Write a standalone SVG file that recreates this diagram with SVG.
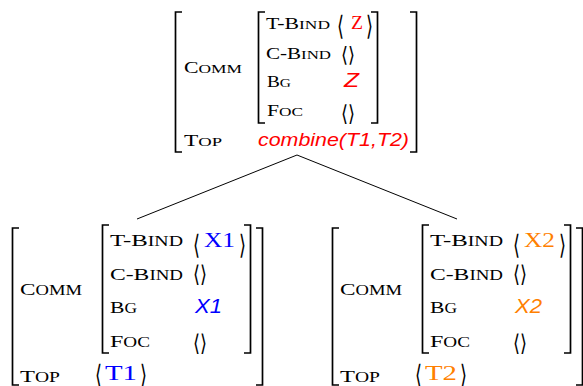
<svg xmlns="http://www.w3.org/2000/svg" width="583" height="386" viewBox="0 0 583 386">
<style>
.br{fill:none;stroke:#000;stroke-width:1.7}
.ln{fill:none;stroke:#000;stroke-width:1}
.f1{font-family:"Liberation Serif",serif;font-size:16.5px;fill:#000}
.f2{font-family:"Liberation Serif",serif;font-size:17.5px;fill:#000}
.sc{font-size:0.8em}
.ang{font-family:"DejaVu Sans",sans-serif;fill:#000}
.rm{font-family:"Liberation Serif",serif}
.it{font-family:"Liberation Sans",sans-serif;font-style:italic}
.red{fill:#ff0000}.blue{fill:#0000ff}.org{fill:#ff8000}
</style>
<g id="connectors">
<line class="ln" x1="297" y1="155" x2="137" y2="219"/>
<line class="ln" x1="297" y1="155" x2="457" y2="219"/>
</g>
<g id="root">
<path class="br" d="M182,12 H175.5 V152 H182 M410,12 H416.5 V152 H410"/>
<path class="br" d="M265,12 H258.5 V123 H265 M371,12 H377.5 V123 H371"/>
<text class="f1" x="184" y="73" textLength="58" lengthAdjust="spacingAndGlyphs">C<tspan class="sc">OMM</tspan></text>
<text class="f1" x="266" y="29" textLength="64" lengthAdjust="spacingAndGlyphs">T-B<tspan class="sc">IND</tspan></text>
<text class="f1" x="266" y="59" textLength="65" lengthAdjust="spacingAndGlyphs">C-B<tspan class="sc">IND</tspan></text>
<text class="f1" x="267" y="87" textLength="24" lengthAdjust="spacingAndGlyphs">B<tspan class="sc">G</tspan></text>
<text class="f1" x="267" y="116" textLength="36" lengthAdjust="spacingAndGlyphs">F<tspan class="sc">OC</tspan></text>
<text class="f1" x="184" y="146" textLength="38" lengthAdjust="spacingAndGlyphs">T<tspan class="sc">OP</tspan></text>
<text class="ang" font-size="27" x="337" y="34.5" textLength="7" lengthAdjust="spacingAndGlyphs">⟨</text>
<text class="rm red" font-size="18" x="351" y="29" textLength="12" lengthAdjust="spacingAndGlyphs">Z</text>
<text class="ang" font-size="27" x="366" y="34.5" textLength="7" lengthAdjust="spacingAndGlyphs">⟩</text>
<text class="ang" font-size="21" x="341" y="61.7" textLength="14" lengthAdjust="spacingAndGlyphs">⟨⟩</text>
<text class="it red" font-size="19.5" x="344" y="87" textLength="15" lengthAdjust="spacingAndGlyphs">Z</text>
<text class="ang" font-size="22" x="341" y="120.7" textLength="14" lengthAdjust="spacingAndGlyphs">⟨⟩</text>
<text class="it red" font-size="19" x="258" y="146" textLength="151" lengthAdjust="spacingAndGlyphs">combine(T1,T2)</text>
</g>
<g id="left">
<path class="br" d="M19,228 H12.5 V385 H19 M256,228 H262.5 V385 H256"/>
<path class="br" d="M109,225 H102.5 V353 H109 M244,225 H250.5 V353 H244"/>
<text class="f2" x="20" y="295" textLength="62" lengthAdjust="spacingAndGlyphs">C<tspan class="sc">OMM</tspan></text>
<text class="f2" x="110" y="246" textLength="73" lengthAdjust="spacingAndGlyphs">T-B<tspan class="sc">IND</tspan></text>
<text class="f2" x="110" y="280" textLength="73" lengthAdjust="spacingAndGlyphs">C-B<tspan class="sc">IND</tspan></text>
<text class="f2" x="110" y="313" textLength="27" lengthAdjust="spacingAndGlyphs">B<tspan class="sc">G</tspan></text>
<text class="f2" x="110" y="347" textLength="40" lengthAdjust="spacingAndGlyphs">F<tspan class="sc">OC</tspan></text>
<text class="f2" x="20" y="382" textLength="40" lengthAdjust="spacingAndGlyphs">T<tspan class="sc">OP</tspan></text>
<text class="ang" font-size="27" x="193" y="253.5" textLength="7" lengthAdjust="spacingAndGlyphs">⟨</text>
<text class="rm blue" font-size="20" x="204" y="246.5" textLength="31" lengthAdjust="spacingAndGlyphs">X1</text>
<text class="ang" font-size="27" x="239" y="253.5" textLength="7" lengthAdjust="spacingAndGlyphs">⟩</text>
<text class="ang" font-size="23" x="193" y="281.6" textLength="14" lengthAdjust="spacingAndGlyphs">⟨⟩</text>
<text class="it blue" font-size="19.5" x="195" y="313" textLength="27" lengthAdjust="spacingAndGlyphs">X1</text>
<text class="ang" font-size="23" x="193" y="350.6" textLength="14" lengthAdjust="spacingAndGlyphs">⟨⟩</text>
<text class="ang" font-size="27" x="95" y="383.5" textLength="7" lengthAdjust="spacingAndGlyphs">⟨</text>
<text class="rm blue" font-size="20" x="105" y="380" textLength="32" lengthAdjust="spacingAndGlyphs">T1</text>
<text class="ang" font-size="27" x="140" y="383.5" textLength="7" lengthAdjust="spacingAndGlyphs">⟩</text>
</g>
<g id="right">
<path class="br" d="M339,228 H332.5 V385 H339 M576,228 H582.5 V385 H576"/>
<path class="br" d="M429,225 H422.5 V353 H429 M564,225 H570.5 V353 H564"/>
<text class="f2" x="340" y="295" textLength="62" lengthAdjust="spacingAndGlyphs">C<tspan class="sc">OMM</tspan></text>
<text class="f2" x="430" y="246" textLength="73" lengthAdjust="spacingAndGlyphs">T-B<tspan class="sc">IND</tspan></text>
<text class="f2" x="430" y="280" textLength="73" lengthAdjust="spacingAndGlyphs">C-B<tspan class="sc">IND</tspan></text>
<text class="f2" x="430" y="313" textLength="27" lengthAdjust="spacingAndGlyphs">B<tspan class="sc">G</tspan></text>
<text class="f2" x="430" y="347" textLength="40" lengthAdjust="spacingAndGlyphs">F<tspan class="sc">OC</tspan></text>
<text class="f2" x="340" y="382" textLength="40" lengthAdjust="spacingAndGlyphs">T<tspan class="sc">OP</tspan></text>
<text class="ang" font-size="27" x="513" y="253.5" textLength="7" lengthAdjust="spacingAndGlyphs">⟨</text>
<text class="rm org" font-size="20" x="524" y="246.5" textLength="31" lengthAdjust="spacingAndGlyphs">X2</text>
<text class="ang" font-size="27" x="559" y="253.5" textLength="7" lengthAdjust="spacingAndGlyphs">⟩</text>
<text class="ang" font-size="23" x="513" y="281.6" textLength="14" lengthAdjust="spacingAndGlyphs">⟨⟩</text>
<text class="it org" font-size="19.5" x="515" y="313" textLength="27" lengthAdjust="spacingAndGlyphs">X2</text>
<text class="ang" font-size="23" x="513" y="350.6" textLength="14" lengthAdjust="spacingAndGlyphs">⟨⟩</text>
<text class="ang" font-size="27" x="415" y="383.5" textLength="7" lengthAdjust="spacingAndGlyphs">⟨</text>
<text class="rm org" font-size="20" x="425" y="380" textLength="32" lengthAdjust="spacingAndGlyphs">T2</text>
<text class="ang" font-size="27" x="460" y="383.5" textLength="7" lengthAdjust="spacingAndGlyphs">⟩</text>
</g>
</svg>
